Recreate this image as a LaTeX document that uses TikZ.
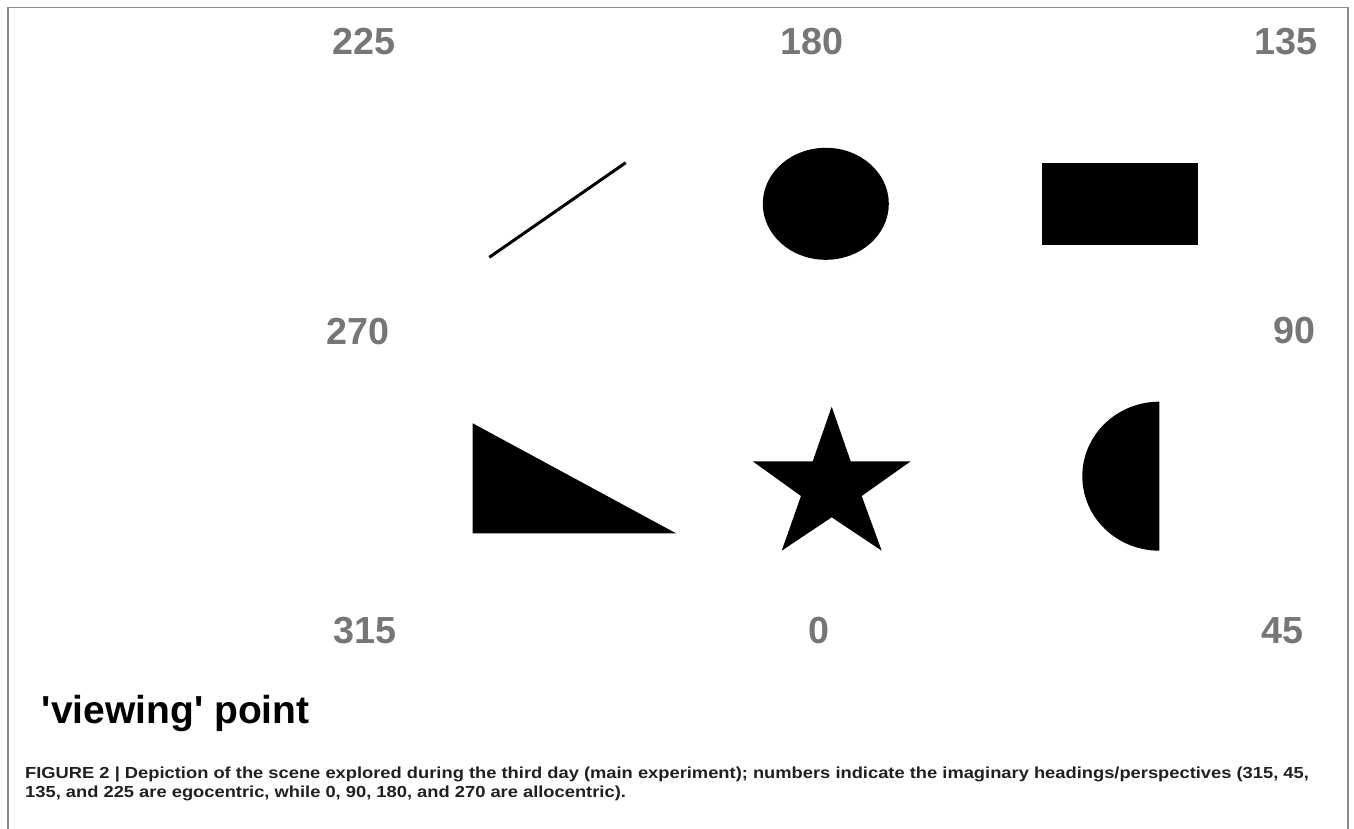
\documentclass[tikz,border=0pt]{standalone}
\usepackage{fontspec}
\setmainfont{Liberation Sans}
\definecolor{numgray}{RGB}{118,118,118}
\definecolor{framegray}{RGB}{140,140,140}
\definecolor{captext}{RGB}{35,31,32}
\tikzset{
  numlabel/.style={inner sep=0pt, text=numgray, font=\bfseries\fontsize{37.7}{40}\selectfont},
  shapefill/.style={fill=black, draw=none},
  captionline/.style={inner sep=0pt, anchor=base west, text=captext, font=\bfseries\fontsize{16}{19}\selectfont},
}
\newcommand{\capstretch}[1]{\scalebox{1.145}[1]{#1}}
\begin{document}
\begin{tikzpicture}[x=1pt,y=-1pt]
\useasboundingbox (0,0) rectangle (1354,829);
\fill[white] (0,0) rectangle (1354,829);
% frame
\draw[framegray, line width=1.5pt] (8,829) -- (8,7.5) -- (1348,7.5) -- (1348,829);
% numbers
\node[numlabel] (n225) at (364,41.7) {225};
\node[numlabel] (n180) at (812,41.7) {180};
\node[numlabel] (n135) at (1286,41.7) {135};
\node[numlabel] (n270) at (358,331.7) {270};
\node[numlabel] (n90) at (1294,330.5) {90};
\node[numlabel] (n315) at (365,631) {315};
\node[numlabel] (n0) at (819,631) {0};
\node[numlabel] (n45) at (1282,631) {45};
% shapes
\draw[line width=3pt] (489.3,257.3) -- (625.7,162.7);
\fill[shapefill] (825.8,203.8) ellipse [x radius=63, y radius=56];
\fill[shapefill] (1042,163.3) rectangle (1198.3,245);
\fill[shapefill] (472.7,423.3) -- (472.7,533.3) -- (676,533.3) -- cycle;
\fill[shapefill] (831.7,406.7) -- (850.7,461.3) -- (910.7,461.3) -- (861.7,496)
  -- (881.7,550.7) -- (831.7,517.3) -- (781.7,550.7) -- (801,496)
  -- (752.7,461.3) -- (812.7,461.3) -- cycle;
\fill[shapefill] (1159.3,401.7) arc[start angle=270, end angle=90, x radius=77, y radius=74.5] -- cycle;
% viewing point
\node[inner sep=0pt, anchor=base west, font=\bfseries\fontsize{39}{42}\selectfont] (vp) at (41.7,723.3) {\textquotesingle viewing\textquotesingle\ point};
% caption
\node[captionline] (cap1) at (25,778.3) {\capstretch{FIGURE 2 | Depiction of the scene explored during the third day (main experiment); numbers indicate the imaginary headings/perspectives (315, 45,}};
\node[captionline] (cap2) at (25,797.3) {\capstretch{135, and 225 are egocentric, while 0, 90, 180, and 270 are allocentric).}};
\end{tikzpicture}
\end{document}
